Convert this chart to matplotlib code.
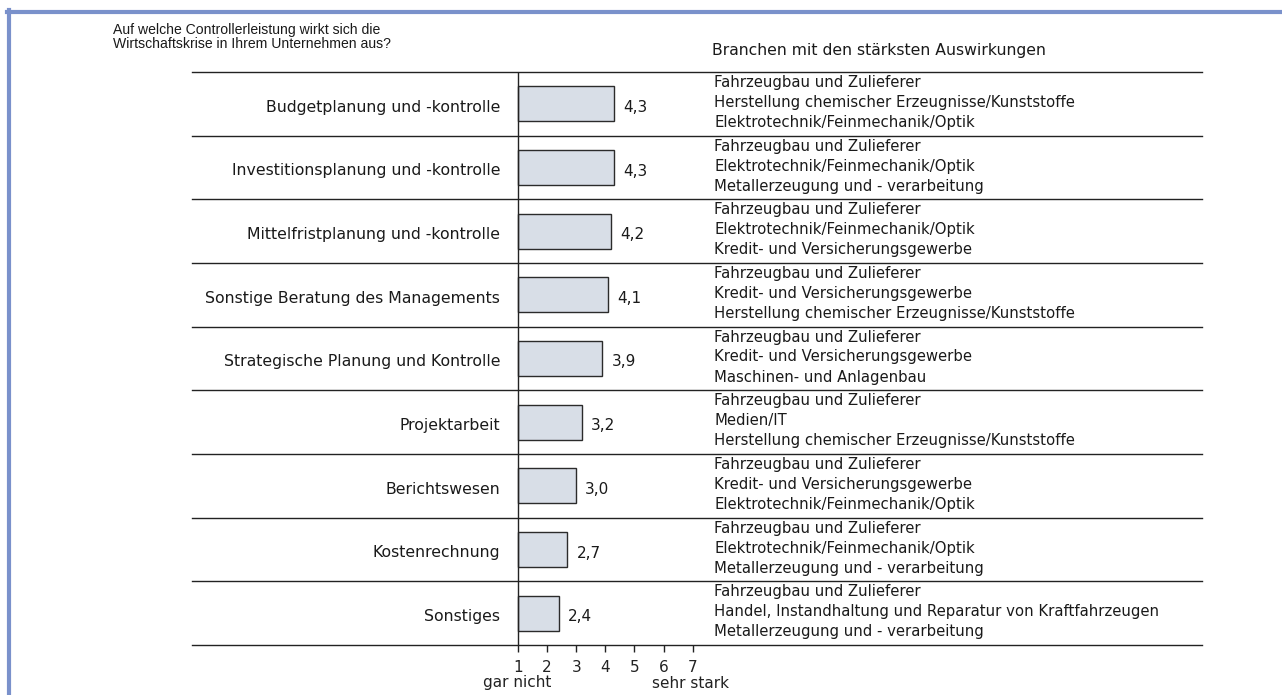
import matplotlib
matplotlib.use("Agg")
import matplotlib.pyplot as plt
import matplotlib.transforms as mtransforms
from matplotlib.lines import Line2D

plt.rcParams['font.family'] = ['DejaVu Sans']

categories = [
    "Budgetplanung und -kontrolle",
    "Investitionsplanung und -kontrolle",
    "Mittelfristplanung und -kontrolle",
    "Sonstige Beratung des Managements",
    "Strategische Planung und Kontrolle",
    "Projektarbeit",
    "Berichtswesen",
    "Kostenrechnung",
    "Sonstiges",
]
values = [4.3, 4.3, 4.2, 4.1, 3.9, 3.2, 3.0, 2.7, 2.4]
value_labels = ["4,3", "4,3", "4,2", "4,1", "3,9", "3,2", "3,0", "2,7", "2,4"]
branches = [
    ["Fahrzeugbau und Zulieferer", "Herstellung chemischer Erzeugnisse/Kunststoffe", "Elektrotechnik/Feinmechanik/Optik"],
    ["Fahrzeugbau und Zulieferer", "Elektrotechnik/Feinmechanik/Optik", "Metallerzeugung und - verarbeitung"],
    ["Fahrzeugbau und Zulieferer", "Elektrotechnik/Feinmechanik/Optik", "Kredit- und Versicherungsgewerbe"],
    ["Fahrzeugbau und Zulieferer", "Kredit- und Versicherungsgewerbe", "Herstellung chemischer Erzeugnisse/Kunststoffe"],
    ["Fahrzeugbau und Zulieferer", "Kredit- und Versicherungsgewerbe", "Maschinen- und Anlagenbau"],
    ["Fahrzeugbau und Zulieferer", "Medien/IT", "Herstellung chemischer Erzeugnisse/Kunststoffe"],
    ["Fahrzeugbau und Zulieferer", "Kredit- und Versicherungsgewerbe", "Elektrotechnik/Feinmechanik/Optik"],
    ["Fahrzeugbau und Zulieferer", "Elektrotechnik/Feinmechanik/Optik", "Metallerzeugung und - verarbeitung"],
    ["Fahrzeugbau und Zulieferer", "Handel, Instandhaltung und Reparatur von Kraftfahrzeugen", "Metallerzeugung und - verarbeitung"],
]
tick_values = [1, 2, 3, 4, 5, 6, 7]
tick_labels = ["1", "2", "3", "4", "5", "6", "7"]
scale_low = "gar nicht"
scale_high = "sehr stark"
title_left = ["Auf welche Controllerleistung wirkt sich die",
              "Wirtschaftskrise in Ihrem Unternehmen aus?"]
title_right = "Branchen mit den stärksten Auswirkungen"

W, H = 1282, 695
fig = plt.figure(figsize=(W / 100, H / 100), dpi=100)
renderer = fig.canvas.get_renderer()
TXT = '#1a1a1a'


def fit_size(s, target_px, family):
    t = fig.text(0, 0, s, fontsize=10, family=family)
    w = t.get_window_extent(renderer).width
    t.remove()
    return 10 * target_px / w


fam_main = 'DejaVu Sans'
fam_head = 'Liberation Sans'
fs_branch = fit_size("Fahrzeugbau und Zulieferer", 207, fam_main)
fs_cat = fit_size("Budgetplanung und -kontrolle", 236, fam_main)
fs_head_r = fit_size(title_right, 333, fam_main)
fs_head_l = fit_size(title_left[1], 277, fam_head)
fs_scale = fit_size(scale_low, 68, fam_main)
fs_val = fit_size("4,3", 24, fam_main)


def fy(px):
    return 1 - px / H


def fx(px):
    return px / W


# axes geometry in pixels
ax_l, ax_r, ax_top, ax_bot = 192, 1202, 72, 645
x1_px, unit_px = 518, 29.1
ax = fig.add_axes([ax_l / W, (H - ax_bot) / H, (ax_r - ax_l) / W, (ax_bot - ax_top) / H])
xmin = 1 - (x1_px - ax_l) / unit_px
xmax = 1 + (ax_r - x1_px) / unit_px
ax.set_xlim(xmin, xmax)
n = len(categories)
ax.set_ylim(n - 0.5, -0.5)
row_px = (ax_bot - ax_top) / n

ys = list(range(n))
ax.barh(ys, [v - 1 for v in values], left=1, height=0.55,
        color='#d8dee7', edgecolor='#2b2b2b', linewidth=1.0, zorder=3)

blend_fig_x = mtransforms.blended_transform_factory(fig.transFigure, ax.transData)

for y, v, lab in zip(ys, values, value_labels):
    ax.text(v + 0.31, y + 8.0 / row_px, lab, va='baseline', ha='left',
            fontsize=fs_val, color=TXT, family=fam_main)
    fig.text(fx(500), y + 7.7 / row_px, categories[y], va='baseline', ha='right',
             fontsize=fs_cat, color=TXT, family=fam_main, transform=blend_fig_x)
    offs = [-16.7, 3.0, 23.0]
    for off, t in zip(offs, branches[y]):
        fig.text(fx(714), y + off / row_px, t, va='baseline', ha='left',
                 fontsize=fs_branch, color=TXT, family=fam_main, transform=blend_fig_x)

# row dividers
for k in range(n + 1):
    ax.axhline(k - 0.5, color='#222', linewidth=1.0, zorder=2, clip_on=False)

ax.axvline(1, color='#222', linewidth=1.0, zorder=4)

for s in ['top', 'right', 'left', 'bottom']:
    ax.spines[s].set_visible(False)
ax.set_yticks([])
ax.set_xticks(tick_values)
ax.set_xticklabels([])
ax.tick_params(axis='x', direction='out', length=5, width=1, color='#222')

# tick labels at scale positions
blend_data_x = mtransforms.blended_transform_factory(ax.transData, fig.transFigure)
for tv, tl in zip(tick_values, tick_labels):
    fig.text(tv, fy(671.5), tl, ha='center', va='baseline', fontsize=fs_scale,
             color='#222', family=fam_main, transform=blend_data_x)

fig.text(fx(517), fy(687.5), scale_low, ha='center', va='baseline',
         fontsize=fs_scale, color='#222', family=fam_main)
fig.text(fx(690), fy(687.5), scale_high, ha='center', va='baseline',
         fontsize=fs_scale, color='#222', family=fam_main)

fig.text(fx(113), fy(34.3), title_left[0], ha='left', va='baseline',
         fontsize=fs_head_l, color=TXT, family=fam_head)
fig.text(fx(113), fy(48.3), title_left[1], ha='left', va='baseline',
         fontsize=fs_head_l, color=TXT, family=fam_head)
fig.text(fx(712), fy(55), title_right, ha='left', va='baseline',
         fontsize=fs_head_r, color=TXT, family=fam_main)

# blue frame
border = '#7a91cb'
fig.add_artist(Line2D([fx(8.5), fx(8.5)], [0, fy(10)], color=border, linewidth=3,
                      transform=fig.transFigure))
fig.add_artist(Line2D([fx(7), 1], [fy(11.5), fy(11.5)], color=border, linewidth=3,
                      transform=fig.transFigure))

fig.savefig("out.png", dpi=100)
